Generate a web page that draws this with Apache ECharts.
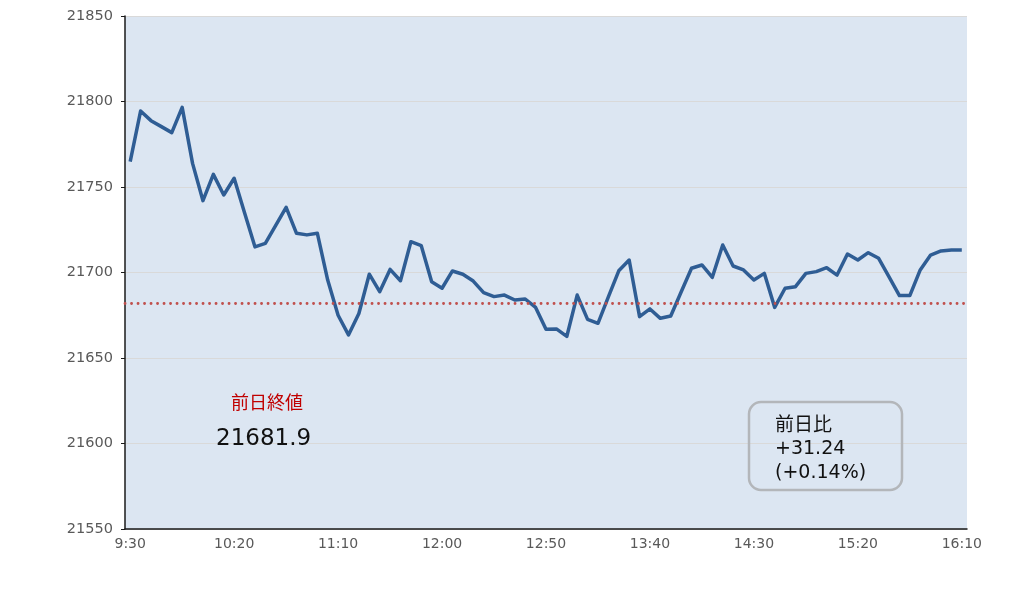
<!DOCTYPE html>
<html><head><meta charset="utf-8">
<script src="https://cdn.jsdelivr.net/npm/echarts@6/dist/echarts.min.js"></script>
<style>html,body{margin:0;padding:0;background:#fff}#c{width:1028px;height:597px}</style>
</head><body><div id="c"></div>
<script>
const times = ["9:30","9:35","9:40","9:45","9:50","9:55","10:00","10:05","10:10","10:15",
"10:20","10:25","10:30","10:35","10:40","10:45","10:50","10:55","11:00","11:05",
"11:10","11:15","11:20","11:25","11:30","11:35","11:40","11:45","11:50","11:55",
"12:00","12:05","12:10","12:15","12:20","12:25","12:30","12:35","12:40","12:45",
"12:50","12:55","13:00","13:05","13:10","13:15","13:20","13:25","13:30","13:35",
"13:40","13:45","13:50","13:55","14:00","14:05","14:10","14:15","14:20","14:25",
"14:30","14:35","14:40","14:45","14:50","14:55","15:00","15:05","15:10","15:15",
"15:20","15:25","15:30","15:35","15:40","15:45","15:50","15:55","16:00","16:05","16:10"];
const prices = [21764.8,21794.4,21788.8,21785.3,21781.8,21796.6,21763.8,21742.0,21757.4,21745.3,
21755.1,21735.0,21715.0,21717.0,21727.6,21738.1,21722.9,21722.0,21723.0,21695.6,
21675.0,21663.5,21676.0,21699.0,21688.8,21701.8,21695.2,21718.0,21715.7,21694.6,
21690.8,21700.9,21699.0,21695.0,21688.2,21685.9,21686.8,21683.9,21684.5,21679.6,
21666.8,21667.0,21662.6,21686.8,21672.6,21670.3,21685.7,21701.0,21707.3,21674.2,
21678.7,21673.2,21674.6,21688.6,21702.5,21704.4,21697.2,21716.1,21703.8,21701.5,
21695.6,21699.5,21679.6,21690.8,21691.7,21699.5,21700.5,21702.8,21698.5,21710.8,
21707.3,21711.6,21708.3,21697.4,21686.5,21686.5,21701.5,21710.2,21712.6,21713.2,21713.14];
const prevClose = 21681.9;
const prevCloseLabel = "前日終値";
const prevCloseText = "21681.9";
const diffLines = ["前日比", "+31.24", "(+0.14%)"];
const yTicks = [21550, 21850, 50];

const font = '"DejaVu Sans", "Noto Sans CJK JP", sans-serif';
const chart = echarts.init(document.getElementById('c'));
chart.setOption({
  animation: false,
  backgroundColor: '#ffffff',
  grid: {left: 125, right: 61, top: 16, bottom: 68, show: true, backgroundColor: '#dce6f2', borderWidth: 0},
  xAxis: {
    type: 'category', data: times, boundaryGap: true,
    axisLine: {lineStyle: {color: '#1a1a1a', width: 1.5}},
    axisTick: {inside: true, length: 3, lineStyle: {color: '#1a1a1a'},
      interval: (i) => i % 10 === 5 || i === 80},
    axisLabel: {interval: (i) => i % 10 === 0, color: '#595959', fontSize: 14, fontFamily: font, margin: 8},
    splitLine: {show: false}
  },
  yAxis: {
    type: 'value', min: yTicks[0], max: yTicks[1], interval: yTicks[2],
    axisLine: {show: true, lineStyle: {color: '#1a1a1a', width: 1.5}},
    axisTick: {show: true, length: 4, lineStyle: {color: '#1a1a1a'}},
    axisLabel: {color: '#595959', fontSize: 14.5, fontFamily: font, margin: 12, formatter: (v) => String(v)},
    splitLine: {lineStyle: {color: '#d9d9d9', width: 1}}
  },
  series: [{
    type: 'line', data: prices, symbol: 'none',
    lineStyle: {color: '#2f5d94', width: 3.5, join: 'round'},
    markLine: {
      silent: true, symbol: 'none', label: {show: false},
      lineStyle: {color: '#c0504d', width: 2.8, type: [0.1, 6.4], cap: 'round'},
      data: [{yAxis: prevClose}]
    }
  }],
  graphic: [
    {type: 'text', z: 100, left: 231, top: 393, style: {text: prevCloseLabel, fill: '#c00000', font: '18px "Noto Sans CJK JP", sans-serif'}},
    {type: 'text', z: 100, left: 216, top: 428, style: {text: prevCloseText, fill: '#111111', font: '23px ' + font}},
    {type: 'rect', z: 100, shape: {x: 749, y: 402, width: 153, height: 88, r: 12},
      style: {fill: 'none', stroke: '#b3b6ba', lineWidth: 2.5}},
    {type: 'text', z: 100, left: 775, top: 414, style: {text: diffLines.join('\n'), fill: '#111111', font: '19px ' + font, lineHeight: 23.5}}
  ]
});
</script></body></html>
